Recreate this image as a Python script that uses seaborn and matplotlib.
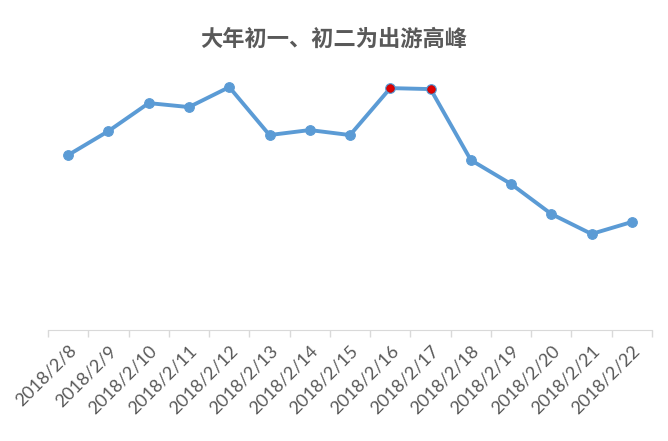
import matplotlib
matplotlib.use("Agg")
import matplotlib.pyplot as plt
import seaborn as sns
import pandas as pd

# data (arbitrary units, no y axis shown)
dates = ["2018/2/8", "2018/2/9", "2018/2/10", "2018/2/11", "2018/2/12",
         "2018/2/13", "2018/2/14", "2018/2/15", "2018/2/16", "2018/2/17",
         "2018/2/18", "2018/2/19", "2018/2/20", "2018/2/21", "2018/2/22"]
values = [175, 199, 227, 223, 243, 195, 200, 195, 242, 241, 170, 146, 116, 96, 108]
peak_dates = ["2018/2/16", "2018/2/17"]

data = pd.DataFrame({"date": dates, "value": values})
peaks = data[data["date"].isin(peak_dates)]

sns.set_style("white")
plt.rcParams['font.family'] = ['Lato', 'Noto Sans CJK SC', 'DejaVu Sans']

fig = plt.figure(figsize=(6.68, 4.41), dpi=100)
ax = fig.add_axes([0.072, 0.252, 0.904, 0.589])

blue = "#5B9BD5"
sns.lineplot(data=data, x="date", y="value", ax=ax, color=blue, linewidth=2.8,
             marker="o", markersize=7, markeredgecolor=blue, sort=False)
sns.scatterplot(data=peaks, x="date", y="value", ax=ax, color="#E00000",
                s=30, edgecolor="#C00000", linewidth=0.5, zorder=5)

ax.set_xlim(-0.5, len(dates) - 0.5)
ax.set_ylim(0, 260)
ax.set_xlabel("")
ax.set_ylabel("")
ax.set_yticks([])

ax.set_xticks(range(len(dates)))
ax.set_xticklabels(dates, rotation=45, ha="right", rotation_mode="anchor",
                   fontsize=13, color="#595959")
ax.set_xticks([i - 0.5 for i in range(len(dates) + 1)], minor=True)
ax.tick_params(axis="x", which="major", length=0, pad=9)
ax.tick_params(axis="x", which="minor", bottom=True, length=5,
               color="#D9D9D9", width=1)

for s in ["top", "right", "left"]:
    ax.spines[s].set_visible(False)
ax.spines["bottom"].set_color("#D9D9D9")

fig.text(0.5, 0.91, "大年初一、初二为出游高峰", ha="center", va="center",
         fontsize=16, fontweight="bold", color="#595959",
         family=['Noto Sans CJK SC', 'DejaVu Sans'])

fig.savefig("out.png", dpi=100)
